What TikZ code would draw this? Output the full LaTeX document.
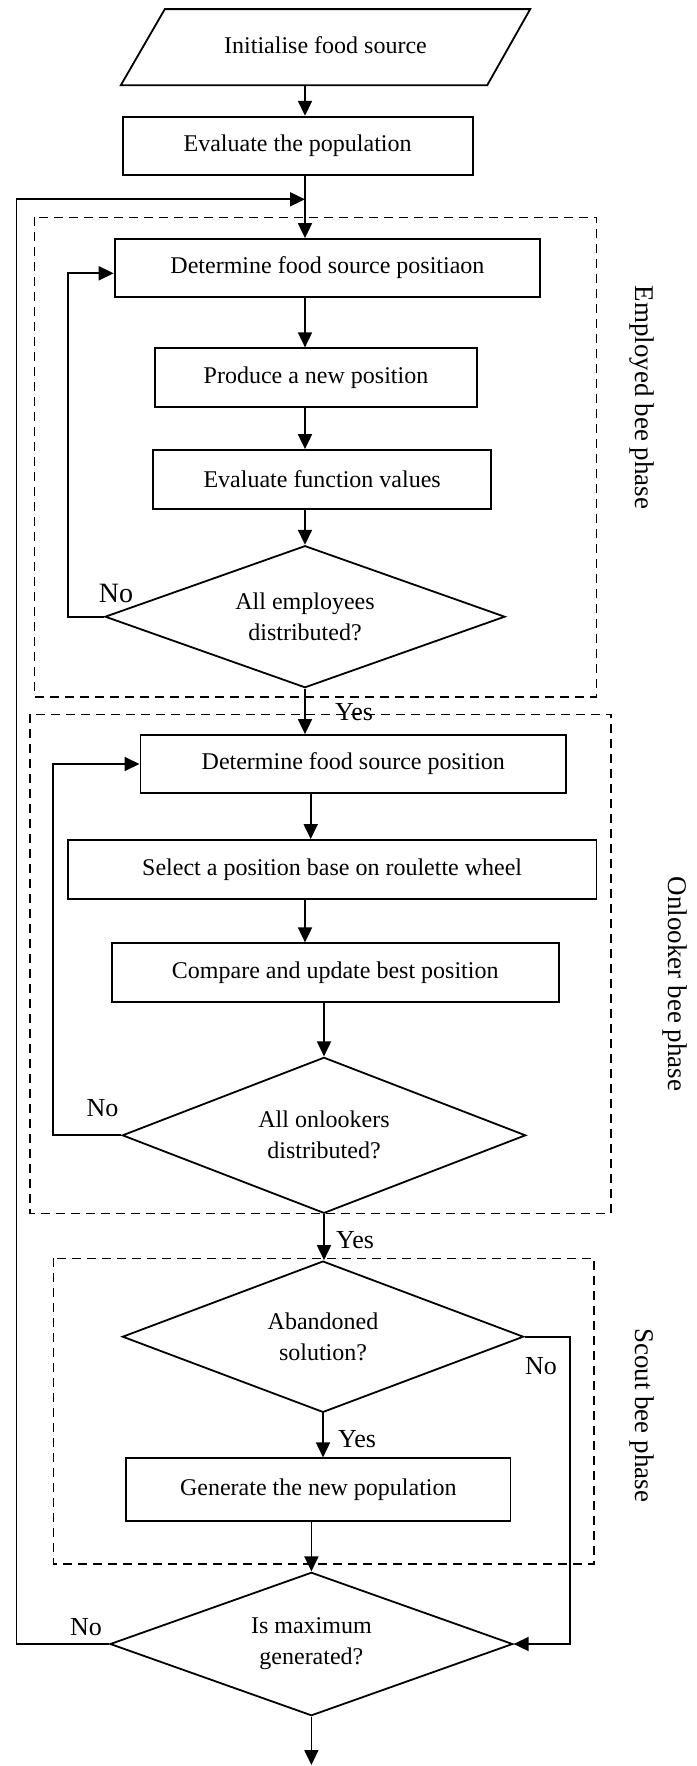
\documentclass[tikz,border=0pt]{standalone}
\usepackage{fontspec}
\setmainfont{Liberation Serif}
\usetikzlibrary{arrows.meta,shapes.geometric}
\begin{document}
\begin{tikzpicture}[x=1pt,y=-1pt,
  every node/.style={font=\fontsize{24}{31}\selectfont, align=center, inner sep=0pt},
  proc/.style={draw, line width=1.8pt, rectangle},
  dec/.style={draw, line width=1.8pt, diamond, aspect=2.8},
  outline/.style={line width=1.8pt},
  flow/.style={line width=1.8pt, -{Triangle[length=15pt,width=14pt]}},
  frame/.style={line width=1.6pt, dash pattern=on 9pt off 6pt},
  lbl/.style={font=\fontsize{26}{30}\selectfont},
  phaselbl/.style={font=\fontsize{27}{30}\selectfont, rotate=-90}]
\useasboundingbox (0,0) rectangle (696,1766);

% phase frames
\draw[frame] (34.3,217.3) rectangle (596.5,696.7);
\draw[frame] (29.9,714.3) rectangle (610.8,1213.3);
\draw[frame] (53.5,1258.3) rectangle (593.8,1564);

% axis helpers
\coordinate (a305) at (305,0);
\coordinate (a310) at (310.7,0);
\coordinate (a324) at (324,0);
\coordinate (a311) at (311.4,0);

% nodes
\node[minimum width=409pt, minimum height=75.7pt] (init) at (325.5,47.2) {\raisebox{4pt}{Initialise food source}};
\draw[outline] (init.south west) -- ([xshift=-43pt]init.south east) -- (init.north east) -- ([xshift=44pt]init.north west) -- cycle;

\node[proc, minimum width=350pt, minimum height=58.3pt] (eval) at (297.6,145.85) {Evaluate the population};
\node[proc, minimum width=425.7pt, minimum height=57.7pt] (det1) at (327.45,267.85) {Determine food source positiaon};
\node[proc, minimum width=322pt, minimum height=59pt] (prod) at (316,377.8) {Produce a new position};
\node[proc, minimum width=338.3pt, minimum height=58.7pt] (evf) at (322.15,479.35) {Evaluate function values};
\node[dec, minimum width=400pt, minimum height=142pt] (d1) at (305,616.7) {All employees\\distributed?};
\node[proc, minimum width=425.8pt, minimum height=57.7pt] (det2) at (353.3,763.85) {Determine food source position};
\node[proc, minimum width=528.7pt, minimum height=58.7pt] (sel) at (332.15,869.35) {Select a position base on roulette wheel};
\node[proc, minimum width=446.7pt, minimum height=59pt] (cmp) at (335.25,972.8) {Compare and update best position};
\node[dec, minimum width=403.4pt, minimum height=156pt] (d2) at (324,1135.3) {All onlookers\\distributed?};
\node[dec, minimum width=401.2pt, minimum height=151.3pt] (d3) at (323,1336.7) {Abandoned\\solution?};
\node[proc, minimum width=384.3pt, minimum height=62.4pt] (gen) at (318.35,1489.5) {Generate the new population};
\node[dec, minimum width=402.7pt, minimum height=143.4pt] (d4) at (311.4,1644) {Is maximum\\generated?};
\coordinate (stop) at (311.4,1765);

% main flow
\draw[flow] (init.south -| a305) -- (eval.north -| a305);
\draw[flow] (eval.south -| a305) -- (det1.north -| a305);
\draw[flow] (det1.south -| a305) -- (prod.north -| a305);
\draw[flow] (prod.south -| a305) -- (evf.north -| a305);
\draw[flow] (evf.south -| a305) -- (d1.north);
\draw[flow] (d1.south) -- (det2.north -| a305);
\draw[flow] (det2.south -| a310) -- (sel.north -| a310);
\draw[flow] (sel.south -| a305) -- (cmp.north -| a305);
\draw[flow] (cmp.south -| a324) -- (d2.north);
\draw[flow] (d2.south) -- (d2.south |- d3.north);
\draw[flow] (d3.south) -- (d3.south |- gen.north);
\draw[flow] (gen.south -| a311) -- (d4.north);
\draw[flow] (d4.south) -- (stop);

% loops
\coordinate (c1) at (68.2,273.3);
\coordinate (c2) at (52.6,764);
\coordinate (c3) at (569.8,1340);
\coordinate (c4) at (16.5,199.3);
\draw[flow] (d1.west) -| (c1) -- (c1 -| det1.west);
\draw[flow] (d2.west) -| (c2) -- (c2 -| det2.west);
\draw[flow] (d3.east) -| (c3 |- d4.east) -- (d4.east);
\draw[flow] (d4.west) -| (c4) -- (c4 -| a305);

% labels
\node[lbl, font=\fontsize{28}{30}\selectfont] (n1) at (116,593) {No};
\node[lbl] (n2) at (102.5,1108.3) {No};
\node[lbl] (n3) at (541,1366) {No};
\node[lbl] (n4) at (86,1626.7) {No};
\node[lbl] (y1) at (354,711.7) {Yes};
\node[lbl] (y2) at (355,1240) {Yes};
\node[lbl] (y3) at (357,1439.3) {Yes};

\node[phaselbl] (p1) at (642,397.6) {Employed bee phase};
\node[phaselbl] (p2) at (675,984) {Onlooker bee phase};
\node[phaselbl] (p3) at (642,1415) {Scout bee phase};
\end{tikzpicture}
\end{document}
